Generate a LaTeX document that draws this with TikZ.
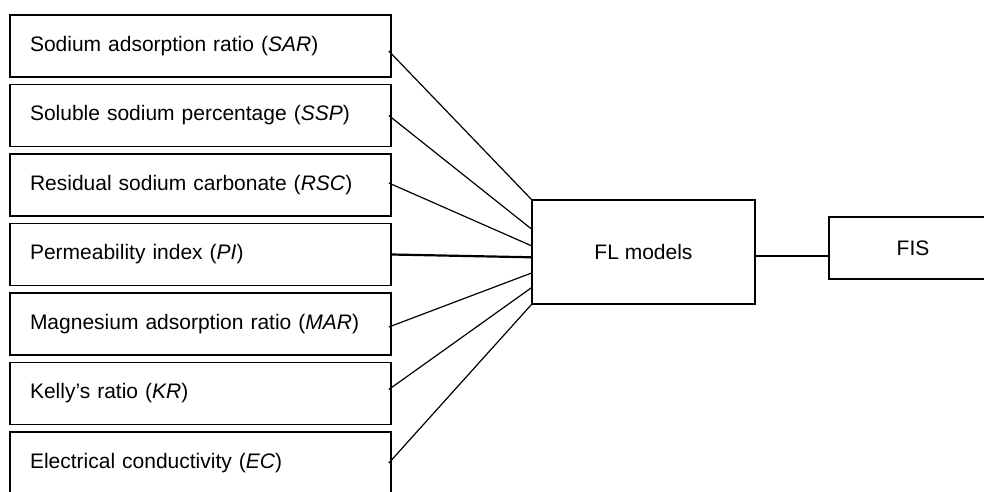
\documentclass[tikz,border=0pt]{standalone}
\usepackage{fontspec}
\setmainfont{Liberation Sans}
\usetikzlibrary{calc}

\begin{document}
\begin{tikzpicture}[x=1pt, y=-1pt,
    every node/.style={font=\fontsize{21}{25}\selectfont},
    inbox/.style={draw, line width=1.6pt, text width=341pt, inner xsep=20pt,
      minimum height=62pt, align=left},
    modelbox/.style={draw, line width=1.6pt, minimum width=223pt, minimum height=104pt},
    link/.style={line width=1.2pt},
    mainlink/.style={line width=2.2pt}]
  \useasboundingbox (0,0) rectangle (984,491);
  \clip (0,0) rectangle (984,491);

  % Input parameters
  \node[inbox] (sar) at (200.5,46)    {Sodium adsorption ratio (\textit{SAR})};
  \node[inbox] (ssp) at (200.5,115.5) {Soluble sodium percentage (\textit{SSP})};
  \node[inbox] (rsc) at (200.5,185)   {Residual sodium carbonate (\textit{RSC})};
  \node[inbox] (pi)  at (200.5,254.5) {Permeability index (\textit{PI})};
  \node[inbox] (mar) at (200.5,324)   {Magnesium adsorption ratio (\textit{MAR})};
  \node[inbox] (kr)  at (200.5,393.5) {Kelly’s ratio (\textit{KR})};
  \node[inbox] (ec)  at (200.5,463)   {Electrical conductivity (\textit{EC})};

  % Model and output
  \node[modelbox] (fl) at (643.5,252) {FL models};
  \node[draw, line width=1.6pt, minimum width=168pt, minimum height=62pt] (fis) at (913,248) {FIS};

  % Connections into the model
  \draw[link] ($(sar.east)+(-3,5)$) -- (fl.north west);
  \draw[link] ($(ssp.east)+(-3,0)$) -- ($(fl.north west)!0.28!(fl.south west)$);
  \draw[link] ($(rsc.east)+(-3,-2)$) -- ($(fl.north west)!0.44!(fl.south west)$);
  \draw[mainlink] (pi.east) -- ($(fl.north west)!0.55!(fl.south west)$);
  \draw[link] ($(mar.east)+(-3,3)$) -- ($(fl.north west)!0.70!(fl.south west)$);
  \draw[link] ($(kr.east)+(-3,-4)$) -- ($(fl.north west)!0.84!(fl.south west)$);
  \draw[link] ($(ec.east)+(-3,0)$) -- (fl.south west);

  % Output link
  \draw[mainlink] ($(fl.east)+(0,4)$) -- ($(fl.east -| fis.west)+(0,4)$);
\end{tikzpicture}
\end{document}
